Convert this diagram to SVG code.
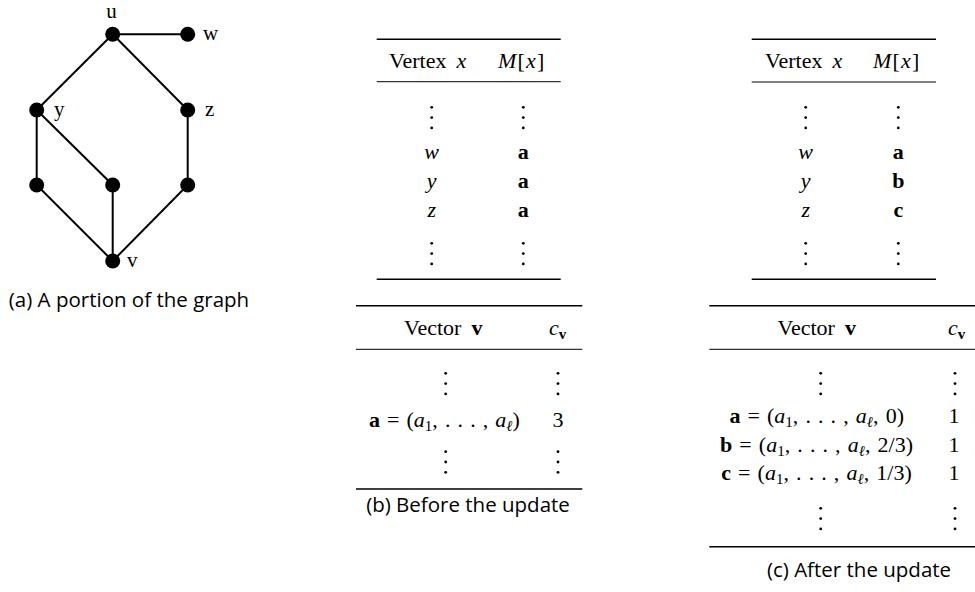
<svg xmlns="http://www.w3.org/2000/svg" width="975" height="592" viewBox="0 0 975 592">
<style>
.bg{fill:#fff}
.edge{stroke:#000;stroke-width:2;fill:none}
.node{fill:#000}
.lbl{font-family:"Liberation Serif",serif;font-size:21px;fill:#000}
.t{font-family:"Liberation Serif",serif;font-size:22px;fill:#000}
.m{word-spacing:1.6px}
.it{font-style:italic}
.bf{font-weight:bold}
.sub{font-size:15px}
.ls{letter-spacing:1.2px}
.cap{font-family:"Open Sans","Noto Sans",sans-serif;font-size:20.5px;fill:#000}
.thick{stroke:#000;stroke-width:1.6}
.thin{stroke:#000;stroke-width:1}
.dot{fill:#000}
</style>
<rect class="bg" x="0" y="0" width="975" height="592"/>
<defs>
<g id="vdots"><circle class="dot" cx="0" cy="0" r="1.4"/><circle class="dot" cx="0" cy="10.3" r="1.4"/><circle class="dot" cx="0" cy="20.6" r="1.4"/></g>
</defs>

<!-- (a) graph -->
<g id="connectors">
<line class="edge" x1="112.7" y1="34.3" x2="187.7" y2="34.3"/>
<line class="edge" x1="112.7" y1="34.3" x2="36.7" y2="110"/>
<line class="edge" x1="112.7" y1="34.3" x2="187.7" y2="110"/>
<line class="edge" x1="36.7" y1="110" x2="36.7" y2="185"/>
<line class="edge" x1="36.7" y1="110" x2="112.7" y2="185"/>
<line class="edge" x1="187.7" y1="110" x2="187.7" y2="185"/>
<line class="edge" x1="36.7" y1="185" x2="112.7" y2="261"/>
<line class="edge" x1="112.7" y1="185" x2="112.7" y2="261"/>
<line class="edge" x1="187.7" y1="185" x2="112.7" y2="261"/>
</g>
<g id="node-u"><circle class="node" cx="112.7" cy="34.3" r="7.5"/><text class="lbl" x="111.5" y="18" font-size="20" text-anchor="middle">u</text></g>
<g id="node-w"><circle class="node" cx="187.7" cy="34.3" r="7.5"/><text class="lbl" x="203" y="40">w</text></g>
<g id="node-y"><circle class="node" cx="36.7" cy="110" r="7.5"/><text class="lbl" x="54" y="116">y</text></g>
<g id="node-z"><circle class="node" cx="187.7" cy="110" r="7.5"/><text class="lbl" x="205" y="116">z</text></g>
<g id="node-l"><circle class="node" cx="36.7" cy="185" r="7.5"/></g>
<g id="node-m"><circle class="node" cx="112.7" cy="185" r="7.5"/></g>
<g id="node-r"><circle class="node" cx="187.7" cy="185" r="7.5"/></g>
<g id="node-v"><circle class="node" cx="112.7" cy="261" r="7.5"/><text class="lbl" x="127" y="267">v</text></g>
<text class="cap" x="129" y="306.5" font-size="21.5" text-anchor="middle">(a) A portion of the graph</text>

<!-- (b) upper table -->
<g id="table-b-top">
<line class="thick" x1="376.7" y1="39.3" x2="560.7" y2="39.3"/>
<text class="t" x="389" y="68">Vertex</text><text class="t it" x="456.5" y="68">x</text>
<text class="t ls" x="498" y="68"><tspan class="it">M</tspan>[<tspan class="it">x</tspan>]</text>
<line class="thin" x1="376.7" y1="81.7" x2="560.7" y2="81.7"/>
<use href="#vdots" x="431.7" y="107.3"/><use href="#vdots" x="523.3" y="107.3"/>
<text class="t it" x="431.7" y="158.5" text-anchor="middle">w</text>
<text class="t bf" x="523.3" y="158.5" text-anchor="middle">a</text>
<text class="t it" x="431.7" y="187.5" text-anchor="middle">y</text>
<text class="t bf" x="523.3" y="187.5" text-anchor="middle">a</text>
<text class="t it" x="431.7" y="216.5" text-anchor="middle">z</text>
<text class="t bf" x="523.3" y="216.5" text-anchor="middle">a</text>
<use href="#vdots" x="431.7" y="243.3"/><use href="#vdots" x="523.3" y="243.3"/>
<line class="thick" x1="376.7" y1="279.3" x2="560.7" y2="279.3"/>
</g>

<!-- (b) lower table -->
<g id="table-b-bottom">
<line class="thick" x1="356" y1="305.7" x2="582.3" y2="305.7"/>
<text class="t" x="404" y="335">Vector</text><text class="t bf" x="471.5" y="335">v</text>
<text class="t" x="549" y="335"><tspan class="it">c</tspan><tspan class="sub bf" dy="4">v</tspan></text>
<line class="thin" x1="356" y1="349.3" x2="582.3" y2="349.3"/>
<use href="#vdots" x="445.7" y="373.3"/><use href="#vdots" x="558" y="373.3"/>
<text class="t m" x="444.4" y="426.7" text-anchor="middle"><tspan class="bf">a</tspan> = (<tspan class="it">a</tspan><tspan class="sub" dy="4">1</tspan><tspan dy="-4">, . . . , </tspan><tspan class="it">a</tspan><tspan class="sub it" dy="4">ℓ</tspan><tspan dy="-4">)</tspan></text>
<text class="t" x="558" y="426.7" text-anchor="middle">3</text>
<use href="#vdots" x="445.7" y="451.7"/><use href="#vdots" x="558" y="451.7"/>
<line class="thick" x1="356" y1="489" x2="582.3" y2="489"/>
</g>
<text class="cap" x="468" y="511.7" text-anchor="middle">(b) Before the update</text>

<!-- (c) upper table -->
<g id="table-c-top">
<line class="thick" x1="751.7" y1="39.3" x2="936" y2="39.3"/>
<text class="t" x="765" y="68">Vertex</text><text class="t it" x="832.5" y="68">x</text>
<text class="t ls" x="873" y="68"><tspan class="it">M</tspan>[<tspan class="it">x</tspan>]</text>
<line class="thin" x1="751.7" y1="82" x2="936" y2="82"/>
<use href="#vdots" x="805.7" y="107.3"/><use href="#vdots" x="898.3" y="107.3"/>
<text class="t it" x="805.7" y="158.5" text-anchor="middle">w</text>
<text class="t bf" x="898.3" y="158.5" text-anchor="middle">a</text>
<text class="t it" x="805.7" y="187.5" text-anchor="middle">y</text>
<text class="t bf" x="898.3" y="187.5" text-anchor="middle">b</text>
<text class="t it" x="805.7" y="216.5" text-anchor="middle">z</text>
<text class="t bf" x="898.3" y="216.5" text-anchor="middle">c</text>
<use href="#vdots" x="805.7" y="243.3"/><use href="#vdots" x="898.3" y="243.3"/>
<line class="thick" x1="751.7" y1="279.3" x2="936" y2="279.3"/>
</g>

<!-- (c) lower table -->
<g id="table-c-bottom">
<line class="thick" x1="709.3" y1="305.7" x2="975" y2="305.7"/>
<text class="t" x="777.5" y="335">Vector</text><text class="t bf" x="845" y="335">v</text>
<text class="t" x="948" y="335"><tspan class="it">c</tspan><tspan class="sub bf" dy="4">v</tspan></text>
<line class="thin" x1="709.3" y1="349.3" x2="975" y2="349.3"/>
<use href="#vdots" x="820.7" y="373.3"/><use href="#vdots" x="955" y="373.3"/>
<text class="t m" x="816.7" y="423.3" text-anchor="middle"><tspan class="bf">a</tspan> = (<tspan class="it">a</tspan><tspan class="sub" dy="4">1</tspan><tspan dy="-4">, . . . , </tspan><tspan class="it">a</tspan><tspan class="sub it" dy="4">ℓ</tspan><tspan dy="-4">, 0)</tspan></text>
<text class="t m" x="816.5" y="451.7" text-anchor="middle"><tspan class="bf">b</tspan> = (<tspan class="it">a</tspan><tspan class="sub" dy="4">1</tspan><tspan dy="-4">, . . . , </tspan><tspan class="it">a</tspan><tspan class="sub it" dy="4">ℓ</tspan><tspan dy="-4">, 2/3)</tspan></text>
<text class="t m" x="816.5" y="480" text-anchor="middle"><tspan class="bf">c</tspan> = (<tspan class="it">a</tspan><tspan class="sub" dy="4">1</tspan><tspan dy="-4">, . . . , </tspan><tspan class="it">a</tspan><tspan class="sub it" dy="4">ℓ</tspan><tspan dy="-4">, 1/3)</tspan></text>
<text class="t" x="954" y="423.3" text-anchor="middle">1</text>
<text class="t" x="954" y="451.7" text-anchor="middle">1</text>
<text class="t" x="954" y="480" text-anchor="middle">1</text>
<use href="#vdots" x="820.7" y="508.3"/><use href="#vdots" x="955" y="508.3"/>
<line class="thick" x1="709.3" y1="546.7" x2="975" y2="546.7"/>
</g>
<text class="cap" x="859" y="576.7" text-anchor="middle">(c) After the update</text>
</svg>
